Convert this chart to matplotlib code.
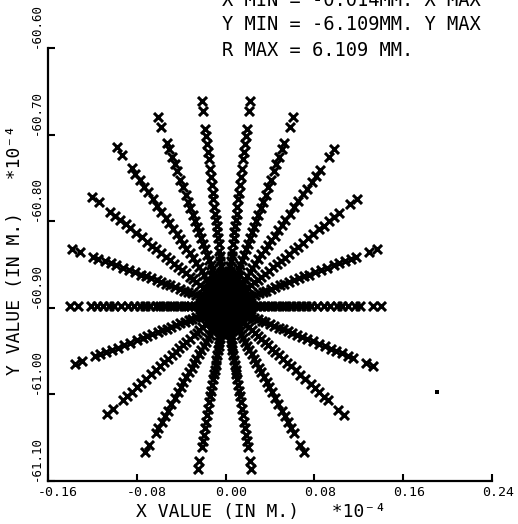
import matplotlib
matplotlib.use('Agg')
import numpy as np
import matplotlib.pyplot as plt
from matplotlib.transforms import ScaledTranslation

# spot centre, in units of 1e-4 m
centre_x = 0.0
centre_y = -60.898

# outer tip of each of the 20 spokes (counter-clockwise, starting top-left)
tip_x = [-0.021, -0.061, -0.098, -0.120, -0.138, -0.140, -0.136, -0.107, -0.073, -0.025,
         0.023, 0.071, 0.107, 0.133, 0.140, 0.136, 0.118, 0.098, 0.061, 0.022]
tip_y = [-60.661, -60.680, -60.714, -60.772, -60.832, -60.898, -60.965, -61.023, -61.067, -61.086,
         -61.086, -61.067, -61.024, -60.967, -60.898, -60.832, -60.774, -60.717, -60.680, -60.661]

# position of the points along a spoke, as a fraction of centre -> tip
spoke_frac = [1.0, 0.95, 0.865, 0.83, 0.79, 0.75, 0.715, 0.67, 0.63, 0.59, 0.55, 0.52,
              0.485, 0.45, 0.42, 0.39, 0.36, 0.33, 0.30, 0.27, 0.245, 0.22, 0.195,
              0.17, 0.15, 0.13, 0.11, 0.09, 0.07, 0.05, 0.03, 0.01]

# lone speck at the right of the plot
speck_x = [0.190]
speck_y = [-60.997]

x_ticks = [-0.16, -0.08, 0.00, 0.08, 0.16, 0.24]
y_ticks = [-60.60, -60.70, -60.80, -60.90, -61.00, -61.10]

header = ["X MIN = -0.014MM. X MAX",
          "Y MIN = -6.109MM. Y MAX",
          "R MAX = 6.109 MM."]

plt.rcParams['font.family'] = ['DejaVu Sans Mono', 'DejaVu Sans']

fig = plt.figure(figsize=(5.18, 5.24), dpi=100)
ax = fig.add_axes([48 / 518, 43 / 524, 444 / 518, 433 / 524])

# spokes: every tip joined to the centre by the sampled fractions
f = np.array(spoke_frac)[:, None]
px = centre_x + f * (np.array(tip_x) - centre_x)
py = centre_y + f * (np.array(tip_y) - centre_y)
outer = np.broadcast_to(f >= 0.165, px.shape)
ax.scatter(px[outer], py[outer], marker='x', s=42, c='black', linewidths=2.2)
# the crowded core prints as a solid blot on the plotter
ax.scatter(px[~outer], py[~outer], marker='x', s=75, c='black', linewidths=3.2)
ax.scatter(speck_x, speck_y, marker='s', s=6, c='black', linewidths=0)

ax.set_xlim(-0.16, 0.24)
ax.set_ylim(-61.10, -60.60)
for side in ['top', 'right']:
    ax.spines[side].set_visible(False)
for side in ['left', 'bottom']:
    ax.spines[side].set_linewidth(1.6)

ax.set_xticks(x_ticks)
ax.set_yticks(y_ticks)
ax.tick_params(direction='in', length=5, width=1.5, labelbottom=False, labelleft=False)

# tick labels, plotter style
for v in x_ticks:
    ax.text(v, 0, f"{v:.2f}", fontsize=9.5, ha='left', va='top',
            transform=ax.get_xaxis_transform() + ScaledTranslation(-0.10, -0.055, fig.dpi_scale_trans))
for v in y_ticks:
    ax.text(0, v, f"{v:.2f}", fontsize=9, rotation=90, ha='right', va='bottom',
            transform=ax.get_yaxis_transform() + ScaledTranslation(-0.05, 0, fig.dpi_scale_trans))

fig.text(261 / 518, 1 - 512 / 524, "X VALUE (IN M.)   *10⁻⁴", fontsize=13, ha='center', va='center')
fig.text(15 / 518, 1 - 250 / 524, "Y VALUE (IN M.)   *10⁻⁴", fontsize=13, rotation=90,
         ha='center', va='center')

for i, line in enumerate(header):
    fig.text(222 / 518, 1 - (0 + 25 * i) / 524, line, fontsize=13.5, ha='left', va='center')

fig.savefig('out.png', dpi=100)
